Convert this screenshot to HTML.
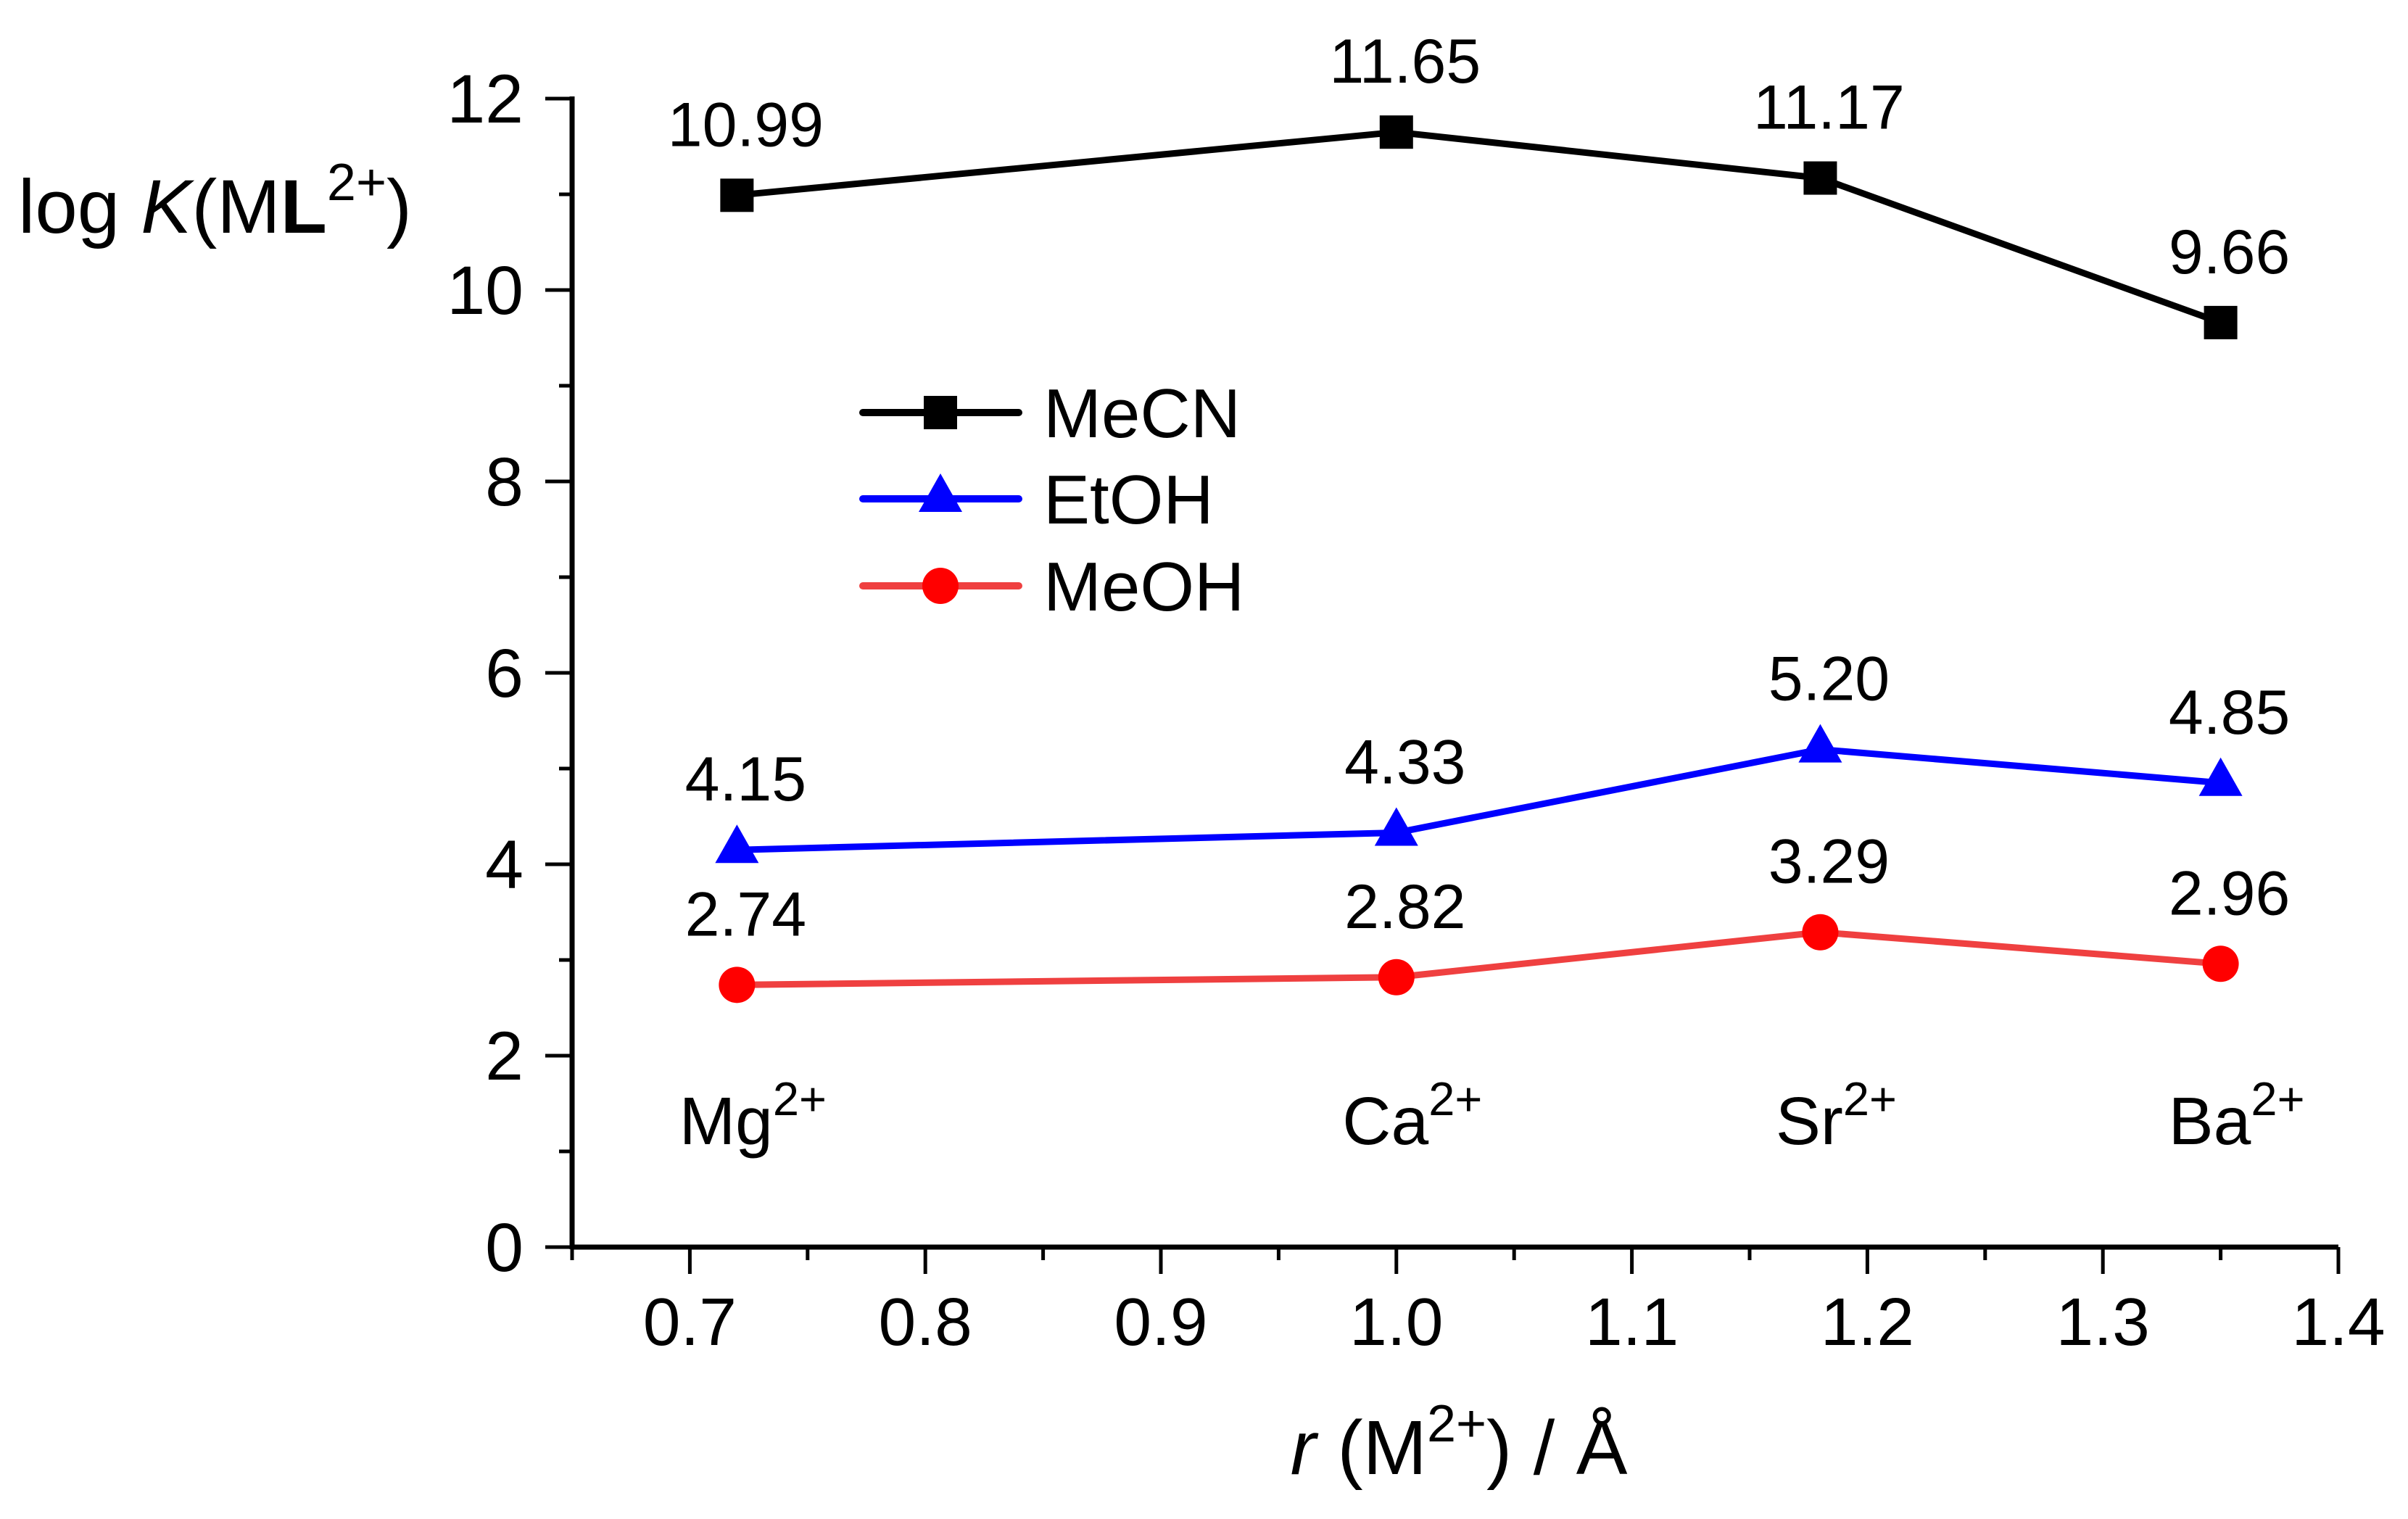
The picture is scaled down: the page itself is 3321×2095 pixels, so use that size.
<!DOCTYPE html>
<html><head><meta charset="utf-8"><style>html,body{margin:0;padding:0;background:#fff}svg{display:block}text{font-family:"Liberation Sans",Arial,sans-serif;fill:#000}</style></head>
<body>
<svg id="chart" width="3321" height="2095" viewBox="0 0 3321 2095" xmlns="http://www.w3.org/2000/svg">
<rect width="3321" height="2095" fill="#fff"/>
<g id="axes"></g>
<g id="series"></g>
<g id="legend"></g>
</svg>
<script>
const categories = ["Mg", "Ca", "Sr", "Ba"];
const radii = [0.72, 1.0, 1.18, 1.35];
const mecn = [10.99, 11.65, 11.17, 9.66];
const etoh = [4.15, 4.33, 5.20, 4.85];
const meoh = [2.74, 2.82, 3.29, 2.96];
const xTicks = ["0.7", "0.8", "0.9", "1.0", "1.1", "1.2", "1.3", "1.4"];
const yTicks = ["0", "2", "4", "6", "8", "10", "12"];

const NS = "http://www.w3.org/2000/svg";
const X0 = 789, X1 = 3225, XMIN = 0.65, XMAX = 1.4;
const Y0 = 1720, Y1 = 136, YMIN = 0, YMAX = 12;
function xs(v){ return X0 + (v - XMIN) / (XMAX - XMIN) * (X1 - X0); }
function ys(v){ return Y0 - (v - YMIN) / (YMAX - YMIN) * (Y0 - Y1); }
function mk(tag, attrs, parent){ const e = document.createElementNS(NS, tag); for (const k in attrs) e.setAttribute(k, attrs[k]); parent.appendChild(e); return e; }

const axes = document.getElementById('axes');
let el = mk('line', {x1: X0, y1: Y0, x2: X1, y2: Y0, stroke: '#000', 'stroke-width': 7}, axes);


el = mk('line', {x1: X0, y1: Y0 + 3, x2: X0, y2: Y1 - 3, stroke: '#000', 'stroke-width': 7}, axes);



for (let i = 0; i < xTicks.length; i++) {
  const v = parseFloat(xTicks[i]);
  const x = xs(v);
  el = mk('line', {x1: x, y1: Y0, x2: x, y2: Y0 + 37, stroke: '#000', 'stroke-width': 5}, axes);
  
  
  el = mk('text', {x: x, y: 1855, 'font-size': 93, 'text-anchor': 'middle'}, axes);
  el.textContent = xTicks[i];
  
  
  const m = v - 0.05;
  if (m >= XMIN - 1e-9) {
    el = mk('line', {x1: xs(m), y1: Y0, x2: xs(m), y2: Y0 + 18, stroke: '#000', 'stroke-width': 5}, axes);
    
    
  }
}
for (let i = 0; i < yTicks.length; i++) {
  const v = parseFloat(yTicks[i]);
  const y = ys(v);
  el = mk('line', {x1: X0, y1: y, x2: X0 - 37, y2: y, stroke: '#000', 'stroke-width': 5}, axes);
  
  
  el = mk('text', {x: 722, y: y + 33, 'font-size': 95, 'text-anchor': 'end'}, axes);
  el.textContent = yTicks[i];
  
  
  if (v + 1 <= YMAX) {
    el = mk('line', {x1: X0, y1: ys(v + 1), x2: X0 - 18, y2: ys(v + 1), stroke: '#000', 'stroke-width': 5}, axes);
    
    
  }
}
el = mk('text', {x: 25, y: 321, 'font-size': 105}, axes);
el.innerHTML = 'log <tspan font-style="italic">K</tspan>(M<tspan font-weight="bold">L</tspan><tspan font-size="72" dy="-45">2+</tspan><tspan dy="45">)</tspan>';


el = mk('text', {x: 2012, y: 2033, 'font-size': 106, 'text-anchor': 'middle'}, axes);
el.innerHTML = '<tspan font-style="italic">r</tspan> (M<tspan font-size="72" dy="-45">2+</tspan><tspan dy="45">) / Å</tspan>';



for (let i = 0; i < categories.length; i++) {
  el = mk('text', {x: xs(radii[i]) + 22, y: 1578, 'font-size': 93, 'text-anchor': 'middle'}, axes);
  el.innerHTML = categories[i] + '<tspan font-size="65" dy="-40">2+</tspan>';
  
  
}

const ser = document.getElementById('series');
function drawSeries(name, vals, lineColor, markColor, shape) {
  const g = mk('g', {}, ser);
  
  
  const pts = vals.map((v, i) => xs(radii[i]) + ',' + ys(v)).join(' ');
  el = mk('polyline', {points: pts, fill: 'none', stroke: lineColor, 'stroke-width': 9, 'stroke-linejoin': 'round'}, g);
  
  
  for (let i = 0; i < vals.length; i++) {
    const x = xs(radii[i]), y = ys(vals[i]);
    drawMarker(g, shape, x, y, markColor, name + '-point');
    el = mk('text', {x: x + 12, y: y - 68, 'font-size': 86, 'text-anchor': 'middle'}, g);
    el.textContent = vals[i].toFixed(2);
    
    
  }
}
function drawMarker(g, shape, x, y, color, nm) {
  let m;
  if (shape === 'square') m = mk('rect', {x: x - 23, y: y - 23, width: 46, height: 46, fill: color}, g);
  else if (shape === 'tri') m = mk('polygon', {points: (x) + ',' + (y - 35) + ' ' + (x - 30) + ',' + (y + 18) + ' ' + (x + 30) + ',' + (y + 18), fill: color}, g);
  else m = mk('circle', {cx: x, cy: y, r: 25, fill: color}, g);
  
  
}
drawSeries('mecn', mecn, '#000', '#000', 'square');
drawSeries('etoh', etoh, '#0000ff', '#0000ff', 'tri');
drawSeries('meoh', meoh, '#ef4040', '#ff0000', 'circle');

const leg = document.getElementById('legend');
const legItems = [['MeCN', '#000', '#000', 'square', 569], ['EtOH', '#0000ff', '#0000ff', 'tri', 688], ['MeOH', '#ef4040', '#ff0000', 'circle', 808]];
for (const it of legItems) {
  const g = mk('g', {}, leg);
  
  
  mk('line', {x1: 1190, y1: it[4], x2: 1405, y2: it[4], stroke: it[1], 'stroke-width': 10, 'stroke-linecap': 'round'}, g);
  drawMarker(g, it[3], 1297, it[4], it[2], 'legend-marker');
  el = mk('text', {x: 1439, y: it[4] + 34, 'font-size': 96}, g);
  el.textContent = it[0];
  
  
}
</script>
</body></html>
